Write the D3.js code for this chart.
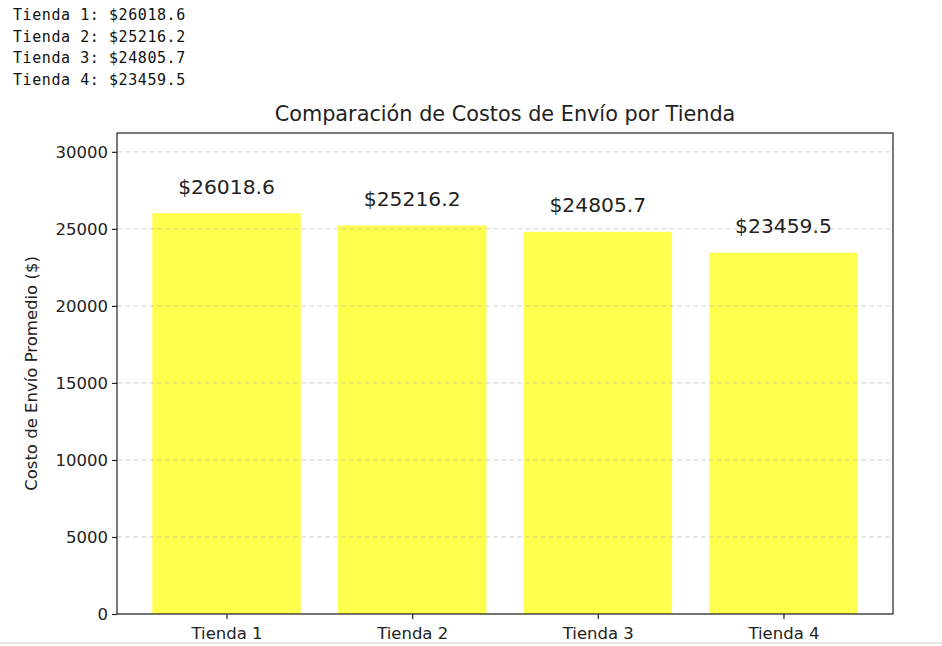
<!DOCTYPE html>
<meta charset="utf-8">
<title>Costos de Envío</title>
<script src="https://cdn.jsdelivr.net/npm/d3@7"></script>
<style>
  body { margin: 0; background: #fff; }
  svg text { font-family: "DejaVu Sans", sans-serif; fill: #222; }
  .out { font-family: "DejaVu Sans Mono", monospace; font-size: 15px; letter-spacing: 0.57px; fill: #111; }
</style>
<div id="chart"></div>
<script>
  // data
  var tiendas = ["Tienda 1", "Tienda 2", "Tienda 3", "Tienda 4"];
  var costos = [26018.6, 25216.2, 24805.7, 23459.5];
  var yTicks = [0, 5000, 10000, 15000, 20000, 25000, 30000];

  var W = 942, H = 646;
  var margin = { top: 133, right: 49, bottom: 32, left: 117 };
  var width = W - margin.left - margin.right,
    height = H - margin.top - margin.bottom;

  var svg = d3.select("#chart").append("svg")
    .attr("width", W)
    .attr("height", H);

  // printed output above the figure
  svg.selectAll(".out")
    .data(tiendas)
    .enter().append("text")
    .attr("class", "out")
    .attr("x", 13)
    .attr("y", function (d, i) { return 20 + i * 21.7; })
    .text(function (d, i) { return d + ": $" + costos[i]; });

  // bottom border of the output cell
  svg.append("line")
    .attr("x1", 0).attr("x2", W)
    .attr("y1", 643).attr("y2", 643)
    .attr("stroke", "#ddd").attr("stroke-width", 1.5);

  var g = svg.append("g")
    .attr("transform", "translate(" + margin.left + "," + margin.top + ")");

  // x like matplotlib: bar width 0.8, 5% margins
  var lo = -0.4 - 0.19, hi = tiendas.length - 0.6 + 0.19;
  var x = d3.scaleLinear().domain([lo, hi]).range([0, width]);
  var y = d3.scaleLinear().domain([0, d3.max(costos) * 1.2]).range([height, 0]);

  // bars
  g.selectAll(".bar")
    .data(costos)
    .enter().append("rect")
    .attr("class", "bar")
    .attr("x", function (d, i) { return x(i - 0.4); })
    .attr("width", x(0.8) - x(0))
    .attr("y", function (d) { return y(d); })
    .attr("height", function (d) { return height - y(d); })
    .attr("fill", "#ffff4d");

  // grid (drawn on top of bars)
  g.selectAll(".grid")
    .data(yTicks)
    .enter().append("line")
    .attr("x1", 0).attr("x2", width)
    .attr("y1", function (d) { return y(d); })
    .attr("y2", function (d) { return y(d); })
    .attr("stroke", "#b0b0b0")
    .attr("stroke-opacity", 0.6)
    .attr("stroke-dasharray", "5,3");

  // value labels
  g.selectAll(".val")
    .data(costos)
    .enter().append("text")
    .attr("class", "val")
    .attr("x", function (d, i) { return x(i); })
    .attr("y", function (d) { return y(d + 1000) - 4; })
    .attr("text-anchor", "middle")
    .style("font-size", "20.3px")
    .text(function (d) { return "$" + d; });

  // axes
  var xAxis = g.append("g")
    .attr("transform", "translate(0," + height + ")")
    .call(d3.axisBottom(x).tickValues(d3.range(tiendas.length))
      .tickFormat(function (i) { return tiendas[i]; }).tickSize(5).tickPadding(8));
  var yAxis = g.append("g")
    .call(d3.axisLeft(y).tickValues(yTicks).tickFormat(d3.format("d")).tickSize(5).tickPadding(4));
  [xAxis, yAxis].forEach(function (a) {
    a.select(".domain").remove();
    a.selectAll("line").attr("stroke", "#222").attr("stroke-width", 1.2);
    a.selectAll("text").style("font-size", "16.5px").attr("fill", "#222").style("font-family", "DejaVu Sans, sans-serif");
  });

  // frame
  g.append("rect")
    .attr("width", width).attr("height", height)
    .attr("fill", "none").attr("stroke", "#222").attr("stroke-width", 1.2);

  // title and y label
  svg.append("text")
    .attr("x", margin.left + width / 2)
    .attr("y", 121)
    .attr("text-anchor", "middle")
    .style("font-size", "20.8px")
    .text("Comparación de Costos de Envío por Tienda");

  svg.append("text")
    .attr("transform", "translate(37," + (margin.top + height / 2) + ") rotate(-90)")
    .attr("text-anchor", "middle")
    .style("font-size", "16.5px")
    .text("Costo de Envío Promedio ($)");
</script>
